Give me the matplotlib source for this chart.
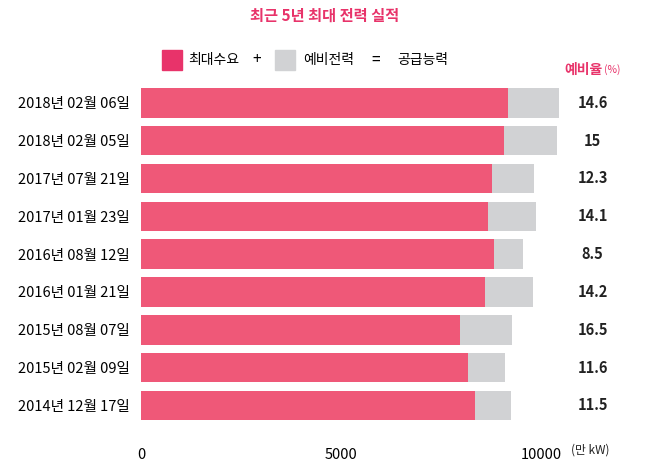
import matplotlib.pyplot as plt
from matplotlib import font_manager
from matplotlib.patches import Rectangle

# register any CJK font file found on the system
cjk = None
for f in font_manager.findSystemFonts():
    if 'CJK' in f or 'cjk' in f.lower():
        try:
            font_manager.fontManager.addfont(f)
            name = font_manager.FontProperties(fname=f).get_name()
            if cjk is None or 'KR' in name:
                cjk = name
        except Exception:
            pass
plt.rcParams['font.family'] = [cjk or 'Noto Sans CJK KR', 'DejaVu Sans']

dates = ['2018년 02월 06일', '2018년 02월 05일', '2017년 07월 21일', '2017년 01월 23일',
         '2016년 08월 12일', '2016년 01월 21일', '2015년 08월 07일', '2015년 02월 09일',
         '2014년 12월 17일']
demand = [9175, 9075, 8775, 8675, 8825, 8600, 7975, 8175, 8350]
supply = [10450, 10400, 9825, 9875, 9550, 9800, 9275, 9100, 9250]
rate = ['14.6', '15', '12.3', '14.1', '8.5', '14.2', '16.5', '11.6', '11.5']

RED = '#EF5878'
GRAY = '#D1D2D4'

fig = plt.figure(figsize=(6.5, 4.71), dpi=100)
ax = fig.add_axes([141/650, 0.091, 459/650, 0.739])
y = list(range(len(dates)))[::-1]
reserve = [s - d for s, d in zip(supply, demand)]
ax.barh(y, demand, height=0.78, color=RED)
ax.barh(y, reserve, left=demand, height=0.78, color=GRAY)
ax.set_xlim(0, 11475)
ax.set_ylim(-0.6, len(dates) - 0.4)
ax.set_yticks(y)
ax.set_yticklabels(dates, fontsize=10.5)
ax.set_xticks([0, 5000, 10000])
ax.set_xticklabels(['0', '5000', '10000'], fontsize=10.5)
ax.tick_params(axis='y', length=0, pad=8)
ax.tick_params(axis='x', length=0, pad=14)
for s in ax.spines.values():
    s.set_visible(False)

for yi, r in zip(y, rate):
    ax.text(0.984, yi, r, transform=ax.get_yaxis_transform(), ha='center', va='center',
            fontsize=10.5, fontweight='bold', color='#222222')

fig.text(0.5, 1 - 16/471, '최근 5년 최대 전력 실적', ha='center', va='center',
         fontsize=11, fontweight='bold', color='#E8336A')
fig.text(603/650, 1 - 70/471, '예비율', ha='right', va='center', fontsize=10,
         fontweight='bold', color='#E8336A')
fig.text(604/650, 1 - 70/471, '(%)', ha='left', va='center', fontsize=7.5, color='#E8336A')
fig.text(590/650, 1 - 450/471, '(만 kW)', ha='center', va='center', fontsize=8.5, color='#222222')

# legend
ly = 1 - 60/471
fig.patches.append(Rectangle((162/650, ly - 10/471), 20/650, 20/471, color='#E8336A',
                             transform=fig.transFigure))
fig.text(188/650, ly, '최대수요', va='center', fontsize=10)
fig.text(257/650, ly, '+', ha='center', va='center', fontsize=11)
fig.patches.append(Rectangle((275/650, ly - 10/471), 20/650, 20/471, color=GRAY,
                             transform=fig.transFigure))
fig.text(303/650, ly, '예비전력', va='center', fontsize=10)
fig.text(376/650, ly, '=', ha='center', va='center', fontsize=11)
fig.text(397/650, ly, '공급능력', va='center', fontsize=10)

fig.savefig('out.png', dpi=100)
